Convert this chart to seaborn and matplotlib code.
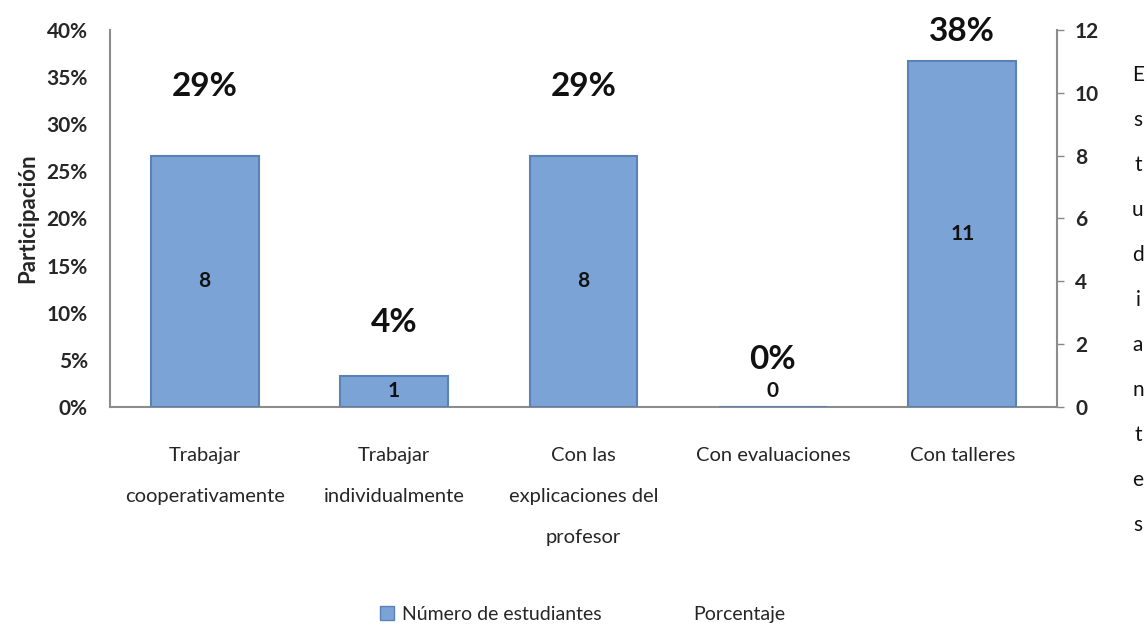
import matplotlib
matplotlib.use("Agg")
import matplotlib.pyplot as plt
import seaborn as sns
from matplotlib.patches import Patch
from matplotlib.lines import Line2D

# data
categorias = ["Trabajar\ncooperativamente", "Trabajar\nindividualmente",
              "Con las\nexplicaciones del\nprofesor", "Con evaluaciones", "Con talleres"]
estudiantes = [8, 1, 8, 0, 11]
porcentaje = [0.29, 0.04, 0.29, 0.00, 0.38]
etiquetas_pct = ["29%", "4%", "29%", "0%", "38%"]
ticks_pct = [0, 0.05, 0.10, 0.15, 0.20, 0.25, 0.30, 0.35, 0.40]
ticks_est = [0, 2, 4, 6, 8, 10, 12]

sns.set_style("white")
plt.rcParams["font.family"] = ["Lato", "DejaVu Sans"]

fig = plt.figure(figsize=(11.47, 6.33), dpi=100)
ax = fig.add_axes([0.0959, 0.357, 0.8256, 0.5957])
ax2 = ax.twinx()

# bars on the secondary (right) axis
sns.barplot(x=list(range(len(categorias))), y=estudiantes, ax=ax2, width=0.57,
            color="#7ba3d6", edgecolor="#5a82b4", linewidth=1.5, saturation=1)
ax2.set_ylim(0, 12)
ax2.set_yticks(ticks_est)
ax2.set_yticklabels([str(t) for t in ticks_est], fontsize=15, fontweight="bold")
ax2.tick_params(axis="y", direction="out", length=5, width=1, color="#888888", pad=8)
ax2.set_ylabel("")

for i, v in enumerate(estudiantes):
    ax2.text(i, max(v / 2, 0.5), str(v), ha="center", va="center",
             fontsize=15, fontweight="bold", color="#111111")

# percentage axis (left)
ax.set_xlim(ax2.get_xlim())
ax.set_ylim(0, 0.40)
ax.set_yticks(ticks_pct)
ax.set_yticklabels([f"{int(round(t * 100))}%" for t in ticks_pct], fontsize=15, fontweight="bold")
ax.tick_params(axis="y", length=0, pad=16)
ax.set_xticks(range(len(categorias)))
ax.set_xticklabels(categorias, fontsize=14.5, linespacing=2.7, va="top")
ax.tick_params(axis="x", length=0, pad=29)
ax.set_ylabel("Participación", fontsize=16, fontweight="bold", labelpad=6)

for i, (p, lab) in enumerate(zip(porcentaje, etiquetas_pct)):
    yf = min(p / 0.40 + 0.125, 0.995)
    ax2.text(i, yf * 12, lab, ha="center", va="center", fontsize=24,
             fontweight="bold", color="#111111")

for a in (ax, ax2):
    for s in a.spines.values():
        s.set_visible(False)
ax.spines["left"].set_visible(True)
ax.spines["bottom"].set_visible(True)
ax2.spines["right"].set_visible(True)
for s in (ax.spines["left"], ax.spines["bottom"], ax2.spines["right"]):
    s.set_color("#8c8c8c")
    s.set_linewidth(1.5)

# stacked right axis title
palabra = "Estudiantes"
for k, ch in enumerate(palabra):
    fig.text(0.992, 1 - (75 + k * 45) / 633, ch, ha="center", va="center",
             fontsize=15, color="#111111")

handles = [Patch(facecolor="#7ba3d6", edgecolor="#5a82b4"),
           Line2D([], [], color="none")]
fig.legend(handles, ["Número de estudiantes", "Porcentaje"], loc="center",
           bbox_to_anchor=(0.508, 0.03), ncol=2, frameon=False, fontsize=14,
           handlelength=0.7, handleheight=0.7, columnspacing=3.6, handletextpad=0.4)

fig.savefig("out.png", dpi=100)
